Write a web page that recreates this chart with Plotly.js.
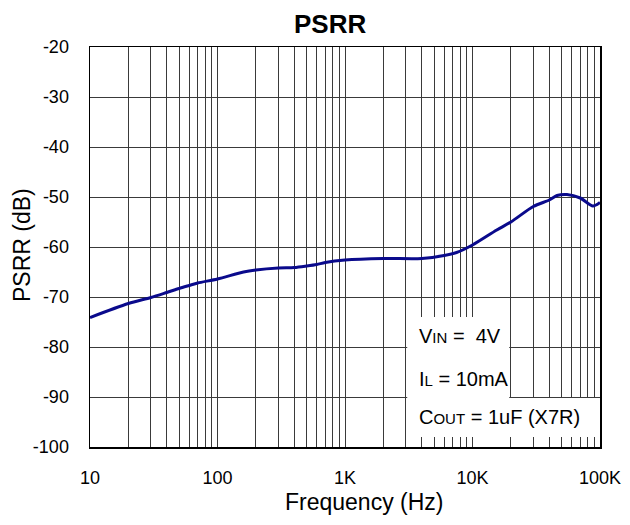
<!DOCTYPE html>
<html>
<head>
<meta charset="utf-8">
<script src="https://cdn.plot.ly/plotly-3.0.1.min.js"></script>
<style>html,body{margin:0;padding:0;background:#fff;}#chart{width:630px;height:525px;}</style>
</head>
<body>
<div id="chart"></div>
<script>
const freqHz = [10, 20, 30, 40, 50, 60, 70, 100, 160, 200, 300, 400, 500, 600, 700, 1000, 2000, 4000, 6000, 7500, 10000, 15500, 20000, 30000, 40000, 46000, 55000, 70000, 88000, 100000];
const psrrDb = [-74.1, -71.3, -70.1, -69.1, -68.3, -67.7, -67.2, -66.4, -65.0, -64.6, -64.2, -64.1, -63.8, -63.5, -63.1, -62.6, -62.3, -62.3, -61.7, -61.1, -59.6, -56.6, -55.0, -51.9, -50.6, -49.7, -49.5, -50.2, -51.8, -51.1];
const majorTickVals = [10, 100, 1000, 10000, 100000];
const majorTickText = ['10', '100', '1K', '10K', '100K'];
const minorTickVals = [];
[10, 100, 1000, 10000].forEach(d => { for (let k = 2; k <= 9; k++) minorTickVals.push(d * k); });
const yTickVals = [-100, -90, -80, -70, -60, -50, -40, -30, -20];
const yTickText = ['-100', '-90', '-80', '-70', '-60', '-50', '-40', '-30', '-20'];
const sub = s => '<span style="font-size:15px">' + s + '</span>';
const conditionLines = ['V' + sub('IN') + ' =  4V', 'I' + sub('L') + ' = 10mA', 'C' + sub('OUT') + ' = 1uF (X7R)'];
const chartTitle = 'PSRR';
const xTitle = 'Frequency (Hz)';
const yTitle = 'PSRR (dB)';

const fontFam = 'Liberation Sans, Arial, sans-serif';
const gridCol = '#3a3a3a';

const trace = {
  x: freqHz, y: psrrDb, type: 'scatter', mode: 'lines',
  line: {color: '#0a0a8c', width: 3, shape: 'spline', smoothing: 0.8},
  hoverinfo: 'skip'
};

const txt = (size) => ({size: size, family: fontFam, color: '#000'});

const layout = {
  width: 630, height: 525,
  margin: {l: 90, r: 30, t: 47, b: 78},
  paper_bgcolor: '#fff', plot_bgcolor: '#fff',
  showlegend: false,
  font: {family: fontFam, color: '#000'},
  title: {text: '<b>' + chartTitle + '</b>', font: txt(26), xref: 'container', yref: 'container', x: 0.524, xanchor: 'center', y: 0.955, yanchor: 'middle'},
  xaxis: {
    type: 'log', range: [1, 5],
    tickmode: 'array', tickvals: majorTickVals, ticktext: majorTickText,
    ticks: '', ticklabelstandoff: 14,
    tickfont: txt(18),
    showgrid: true, gridcolor: gridCol, gridwidth: 1,
    minor: {tickmode: 'array', tickvals: minorTickVals, showgrid: true, gridcolor: gridCol, gridwidth: 1, ticks: ''},
    showline: true, linecolor: '#000', linewidth: 1.5, mirror: true,
    zeroline: false
  },
  yaxis: {
    range: [-100, -20],
    tickmode: 'array', tickvals: yTickVals, ticktext: yTickText,
    ticks: '', ticklabelstandoff: 16,
    tickfont: txt(18),
    showgrid: true, gridcolor: gridCol, gridwidth: 1,
    showline: true, linecolor: '#000', linewidth: 1.5, mirror: true,
    zeroline: false
  },
  shapes: [
    {type: 'rect', xref: 'paper', yref: 'paper', x0: 0.622, x1: 0.822, y0: 0.12, y1: 0.325, fillcolor: '#fff', line: {width: 0}, layer: 'above'},
    {type: 'rect', xref: 'paper', yref: 'paper', x0: 0.622, x1: 0.997, y0: 0.025, y1: 0.1225, fillcolor: '#fff', line: {width: 0}, layer: 'above'}
  ],
  annotations: [
    {text: xTitle, xref: 'paper', yref: 'paper', x: 0.538, y: -0.137, xanchor: 'center', yanchor: 'middle', showarrow: false, font: txt(23)},
    {text: yTitle, xref: 'paper', yref: 'paper', x: -0.1333, y: 0.505, xanchor: 'center', yanchor: 'middle', textangle: -90, showarrow: false, font: txt(23)},
    {text: conditionLines[0], xref: 'paper', yref: 'paper', x: 0.641, y: 0.2775, xanchor: 'left', yanchor: 'middle', showarrow: false, font: txt(20)},
    {text: conditionLines[1], xref: 'paper', yref: 'paper', x: 0.641, y: 0.1700, xanchor: 'left', yanchor: 'middle', showarrow: false, font: txt(20)},
    {text: conditionLines[2], xref: 'paper', yref: 'paper', x: 0.641, y: 0.0750, xanchor: 'left', yanchor: 'middle', showarrow: false, font: txt(20)}
  ]
};

Plotly.newPlot('chart', [trace], layout, {displayModeBar: false, staticPlot: true});
</script>
</body>
</html>
